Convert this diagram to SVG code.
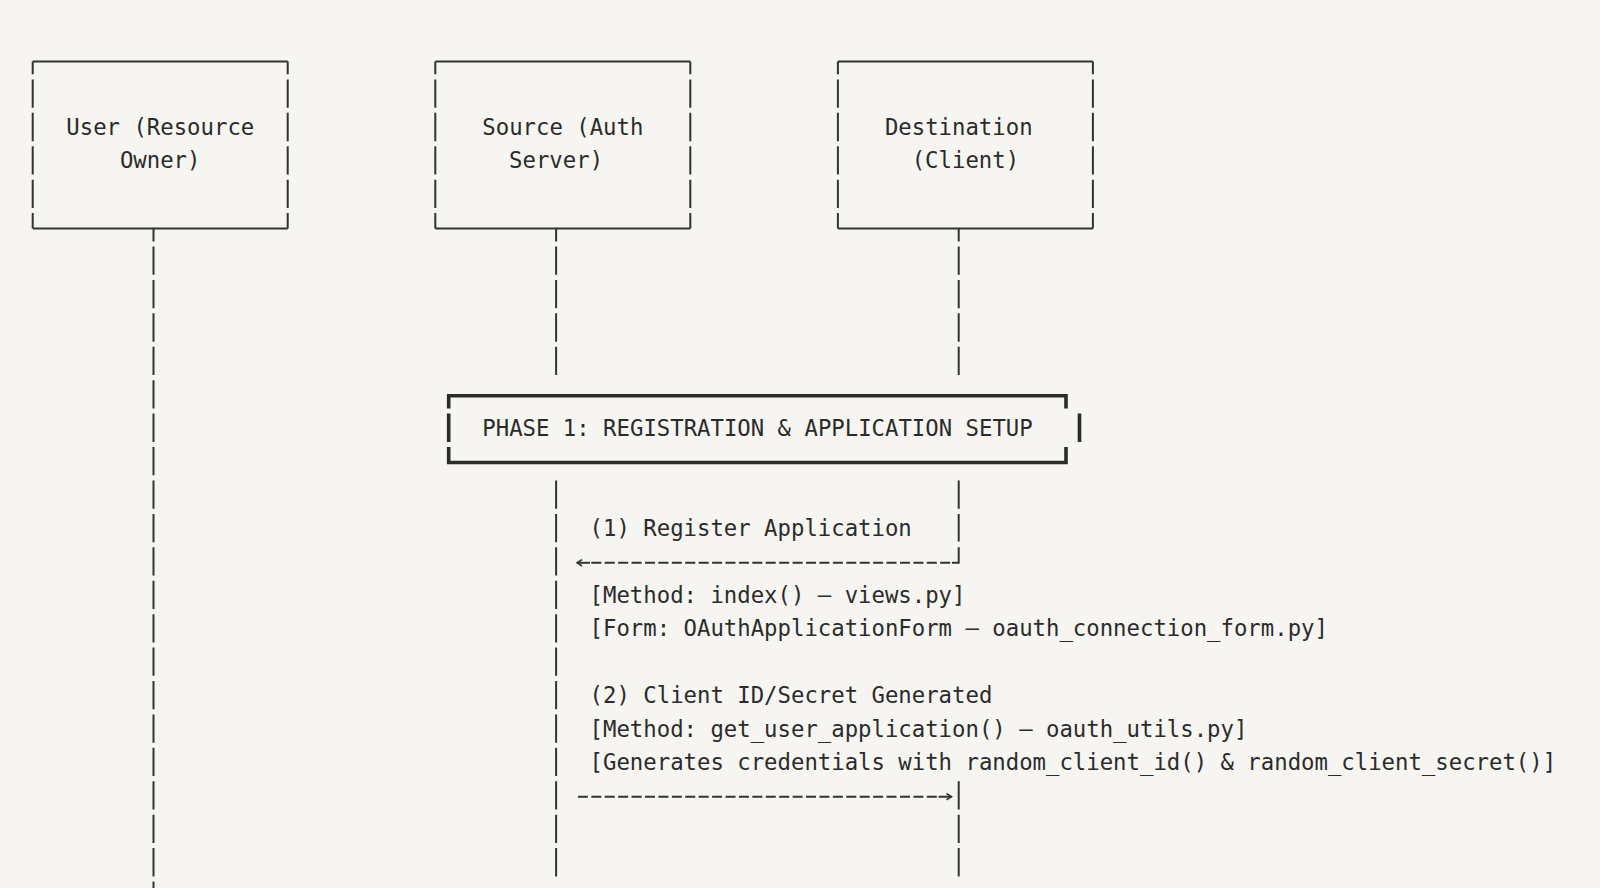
<svg xmlns="http://www.w3.org/2000/svg" width="1600" height="888" viewBox="0 0 1600 888">
<defs>
<style>
.bg{fill:#f6f5f1}
.t{font-family:"DejaVu Sans Mono","Liberation Mono",monospace;font-size:22.3px;fill:#2b2b2b}
.edge{fill:none;stroke:#333;stroke-width:2}
.side{fill:none;stroke:#333;stroke-width:2;stroke-dasharray:28.3 5.12;stroke-dashoffset:15.5}
.life{fill:none;stroke:#333;stroke-width:2;stroke-dasharray:28.3 5.12}
.heavy{fill:none;stroke:#2b2b2b;stroke-width:3.6}
.dash{fill:none;stroke:#333;stroke-width:2;stroke-dasharray:10 3.42}
.shaft{fill:none;stroke:#333;stroke-width:2;marker-end:url(#ah)}
</style>
<marker id="ah" markerWidth="8" markerHeight="8" refX="7" refY="4" orient="auto" markerUnits="userSpaceOnUse">
<path d="M2,0.8 L7,4 L2,7.2" fill="none" stroke="#333" stroke-width="1.6"/>
</marker>
</defs>
<rect class="bg" x="0" y="0" width="1600" height="888"/>

<g id="node-user">
<path class="edge" d="M32.7,61.5 H287.7 M32.7,228.6 H287.7"/>
<path class="side" d="M32.7,61.5 V228.6 M287.7,61.5 V228.6"/>
<text class="t" x="66.3" y="135.04">User (Resource</text>
<text class="t" x="119.9" y="168.46">Owner)</text>
</g>

<g id="node-source">
<path class="edge" d="M435.3,61.5 H690.3 M435.3,228.6 H690.3"/>
<path class="side" d="M435.3,61.5 V228.6 M690.3,61.5 V228.6"/>
<text class="t" x="482.3" y="135.04">Source (Auth</text>
<text class="t" x="509.1" y="168.46">Server)</text>
</g>

<g id="node-destination">
<path class="edge" d="M837.9,61.5 H1092.9 M837.9,228.6 H1092.9"/>
<path class="side" d="M837.9,61.5 V228.6 M1092.9,61.5 V228.6"/>
<text class="t" x="884.9" y="135.04">Destination</text>
<text class="t" x="911.7" y="168.46">(Client)</text>
</g>

<g id="node-phase1">
<path class="heavy" d="M448.7,408.5 V395.7 H1066 V408.5"/>
<path class="heavy" d="M448.7,413.62 V441.92 M1079.5,413.62 V441.92"/>
<path class="heavy" d="M448.7,447.04 V462.54 H1066 V447.04"/>
<text class="t" x="482.3" y="435.82">PHASE 1: REGISTRATION &amp; APPLICATION SETUP</text>
</g>

<g id="connectors">
<path class="life" style="stroke-dashoffset:15.5" d="M153.5,228.6 V888"/>
<path class="life" style="stroke-dashoffset:15.5" d="M556.1,228.6 V375.08"/>
<path class="life" d="M556.1,480.46 V876.38"/>
<path class="life" style="stroke-dashoffset:15.5" d="M958.7,228.6 V375.08"/>
<path class="life" d="M958.7,480.46 V541.5"/>
<path class="edge" d="M951.9,562.8 H958.7 V547.3"/>
<path class="life" d="M958.7,781.24 V876.38"/>
<g id="msg-1">
<path class="dash" d="M591.3,562.8 H950.2"/>
<path class="shaft" d="M590,562.8 H577"/>
</g>
<g id="msg-2">
<path class="dash" d="M577.9,796.74 H936.9"/>
<path class="shaft" d="M938.6,796.74 H951.5"/>
</g>
</g>

<g id="labels">
<text class="t" x="589.6" y="536.08">(1) Register Application</text>
<text class="t" x="589.6" y="602.92">[Method: index() – views.py]</text>
<text class="t" x="589.6" y="636.34">[Form: OAuthApplicationForm – oauth_connection_form.py]</text>
<text class="t" x="589.6" y="703.18">(2) Client ID/Secret Generated</text>
<text class="t" x="589.6" y="736.6">[Method: get_user_application() – oauth_utils.py]</text>
<text class="t" x="589.6" y="770.02">[Generates credentials with random_client_id() &amp; random_client_secret()]</text>
</g>
</svg>
